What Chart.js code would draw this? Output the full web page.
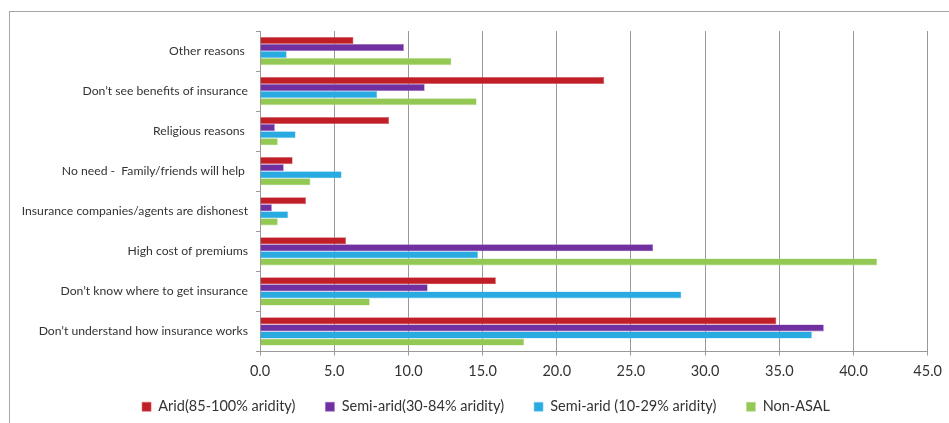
<!DOCTYPE html>
<html>
<head>
<meta charset="utf-8">
<script src="https://cdn.jsdelivr.net/npm/chart.js@4.4.1/dist/chart.umd.min.js"></script>
<style>
  html, body { margin: 0; padding: 0; background: #ffffff; }
  #wrap { position: relative; width: 949px; height: 423px; overflow: hidden; }
  #frame { position: absolute; left: 9px; top: 11px; width: 960px; height: 430px;
           border-top: 1px solid #a6a6a6; border-left: 1px solid #a6a6a6; }
  canvas { position: absolute; left: 0; top: 0; }
</style>
</head>
<body>
<div id="wrap">
  <div id="frame"></div>
  <canvas id="chart" width="949" height="423"></canvas>
</div>
<script>
// Reasons for not taking up insurance, by aridity zone (%)
const reasons = [
  'Other reasons ',
  'Don\u2019t see benefits of insurance',
  'Religious reasons ',
  'No need -  Family/friends will help ',
  'Insurance companies/agents are dishonest',
  'High cost of premiums',
  'Don\u2019t know where to get insurance',
  'Don\u2019t understand how insurance works'
];
const seriesNames = [
  'Arid(85-100% aridity)',
  'Semi-arid(30-84% aridity)',
  'Semi-arid (10-29% aridity)',
  'Non-ASAL'
];
const arid        = [6.3, 23.2, 8.7, 2.2, 3.1, 5.8, 15.9, 34.8];
const semiArid30  = [9.7, 11.1, 1.0, 1.6, 0.8, 26.5, 11.3, 38.0];
const semiArid10  = [1.8, 7.9, 2.4, 5.5, 1.9, 14.7, 28.4, 37.2];
const nonAsal     = [12.9, 14.6, 1.2, 3.4, 1.2, 41.6, 7.4, 17.8];
const xTicksMax = 45;
const xTickStep = 5;

const fills   = ['#c01f28', '#7030a0', '#29abe2', '#92c853'];
const borders = ['#d9636a', '#9a6cc0', '#7fcdf0', '#b9dc8f'];
const values  = [arid, semiArid30, semiArid10, nonAsal];

const datasets = values.map((v, i) => ({
  label: seriesNames[i],
  data: v,
  backgroundColor: fills[i],
  borderColor: borders[i],
  borderWidth: 0.6,
  categoryPercentage: 0.705,
  barPercentage: 1.0
}));

const FONT = 'Lato, "Liberation Sans", sans-serif';

// place the legend row centred under the framed area, just below the axis labels
const legendShift = {
  id: 'legendShift',
  afterLayout(chart) {
    const lg = chart.legend;
    if (lg) {
      lg.left += 17; lg.right += 17;
      lg.top -= 12; lg.bottom -= 12;
    }
  }
};

new Chart(document.getElementById('chart'), {
  type: 'bar',
  data: { labels: reasons, datasets },
  plugins: [legendShift],
  options: {
    indexAxis: 'y',
    responsive: false,
    animation: false,
    layout: { padding: { left: 10, right: 21, top: 31, bottom: -13 } },
    scales: {
      x: {
        min: 0, max: xTicksMax,
        afterFit: s => { s.height = 30; },
        ticks: {
          stepSize: xTickStep,
          color: '#333333',
          padding: 7,
          font: { family: FONT, size: 14.5 },
          callback: v => Number(v).toFixed(1)
        },
        grid: { color: '#999999', lineWidth: 1, tickLength: 4, drawTicks: true },
        border: { color: '#999999' }
      },
      y: {
        afterFit: s => { s.width = 250; },
        ticks: {
          color: '#333333',
          padding: 8,
          font: { family: FONT, size: 12.2 }
        },
        grid: { drawOnChartArea: false, color: '#999999', tickLength: 4 },
        border: { color: '#999999' }
      }
    },
    plugins: {
      tooltip: { enabled: false },
      legend: {
        position: 'bottom',
        labels: {
          color: '#333333',
          boxWidth: 9,
          boxHeight: 9,
          padding: 30,
          font: { family: FONT, size: 14.5 }
        }
      }
    }
  }
});
</script>
</body>
</html>
